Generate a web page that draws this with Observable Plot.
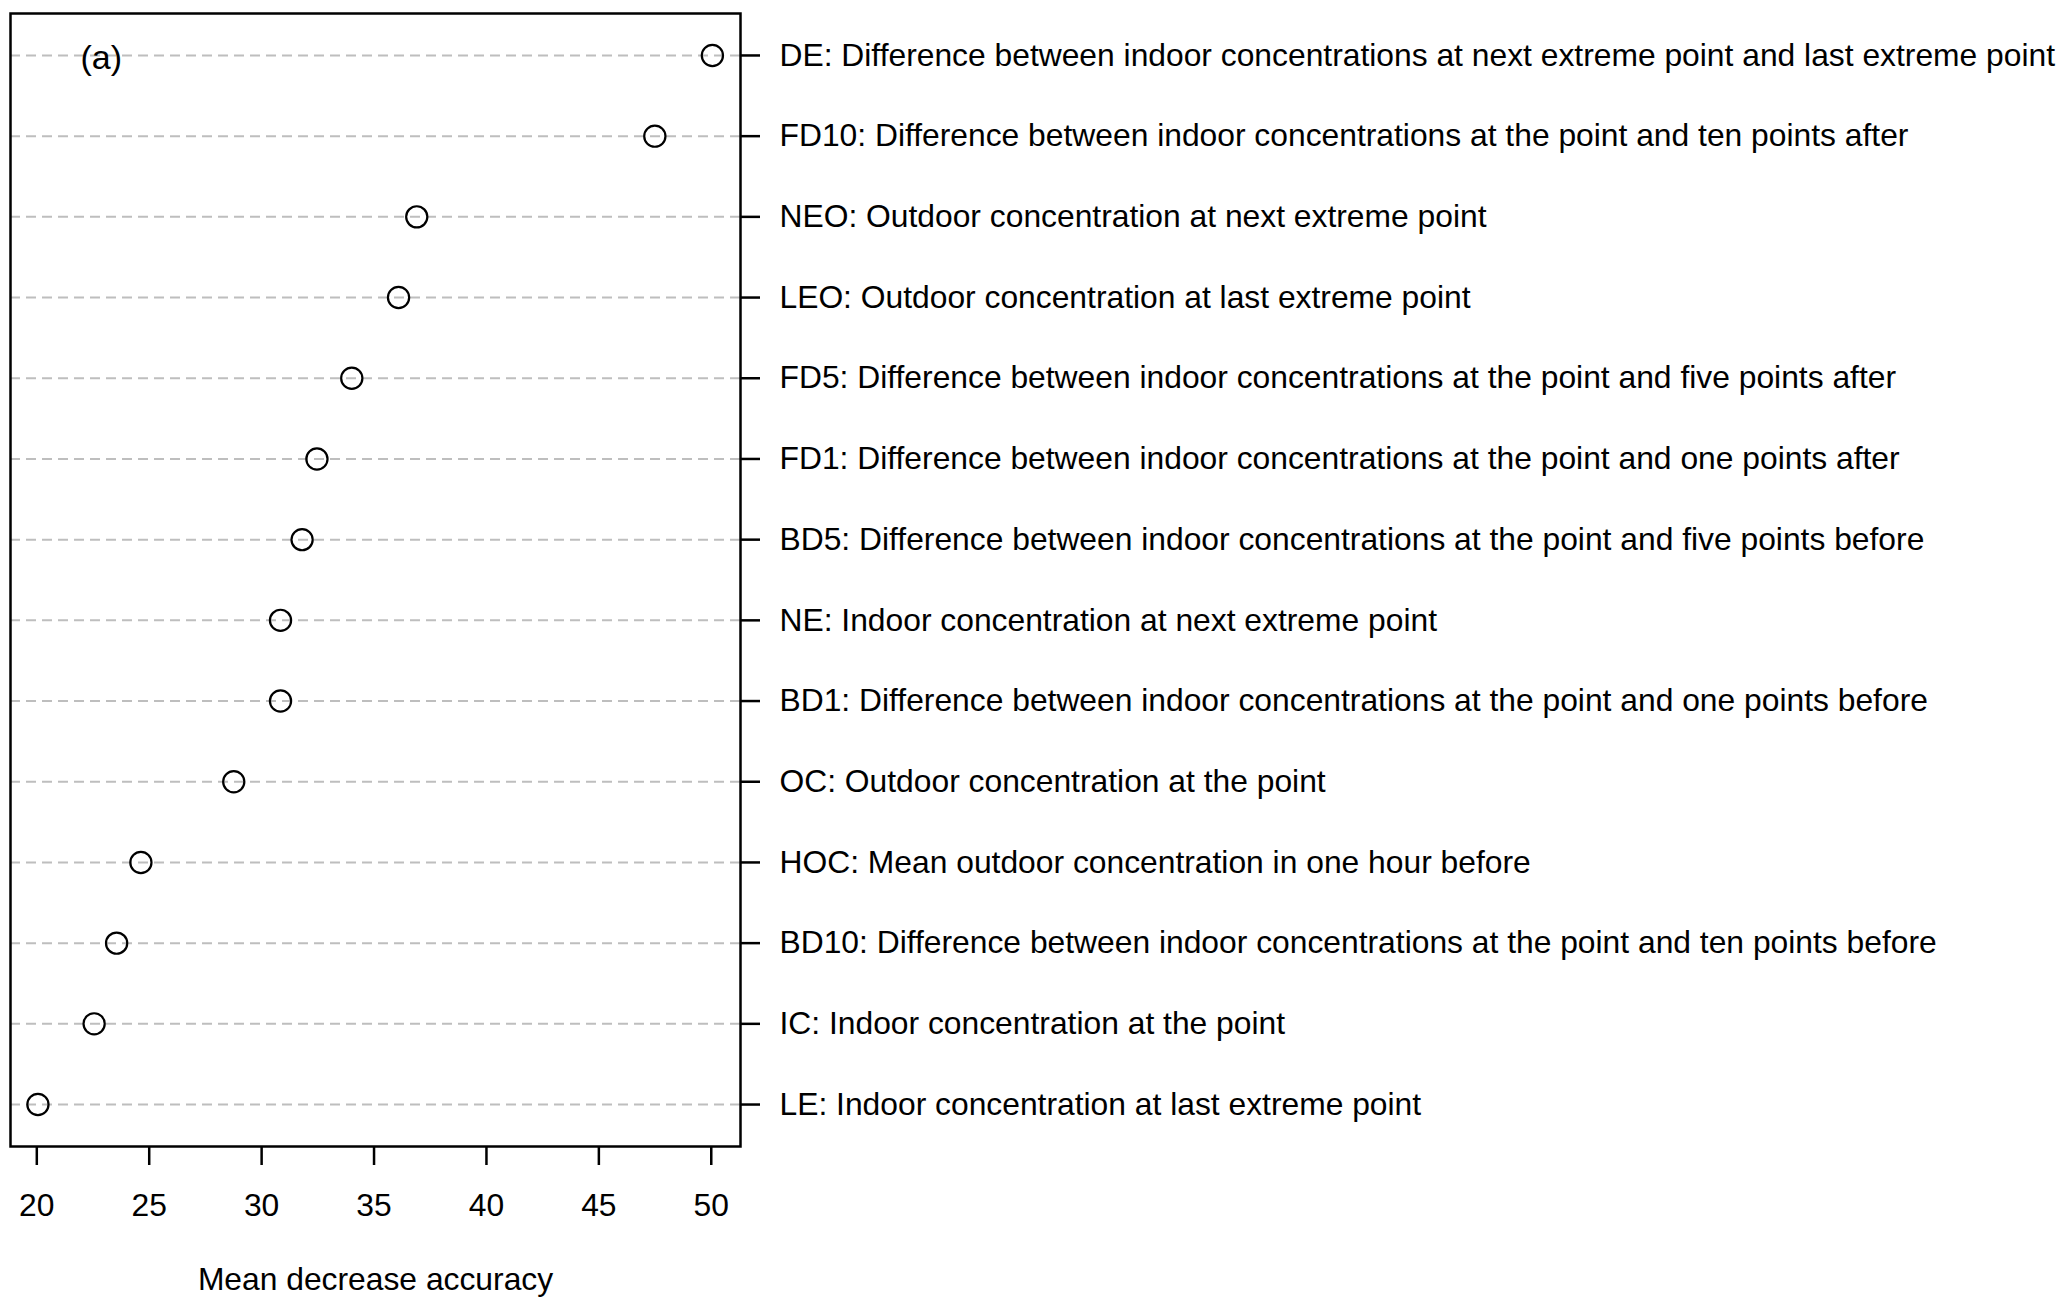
<!DOCTYPE html>
<html>
<head>
<meta charset="utf-8">
<script src="https://cdn.jsdelivr.net/npm/d3@7"></script>
<script src="https://cdn.jsdelivr.net/npm/@observablehq/plot@0.6"></script>
<style>
  html, body { margin: 0; padding: 0; background: #fff; overflow: hidden; }
  svg { display: block; }
</style>
</head>
<body>
<div id="chart"></div>
<script>
// Variables, ordered top to bottom
const codes = ["DE", "FD10", "NEO", "LEO", "FD5", "FD1", "BD5", "NE", "BD1", "OC", "HOC", "BD10", "IC", "LE"];
const descriptions = [
  "Difference between indoor concentrations at next extreme point and last extreme point",
  "Difference between indoor concentrations at the point and ten points after",
  "Outdoor concentration at next extreme point",
  "Outdoor concentration at last extreme point",
  "Difference between indoor concentrations at the point and five points after",
  "Difference between indoor concentrations at the point and one points after",
  "Difference between indoor concentrations at the point and five points before",
  "Indoor concentration at next extreme point",
  "Difference between indoor concentrations at the point and one points before",
  "Outdoor concentration at the point",
  "Mean outdoor concentration in one hour before",
  "Difference between indoor concentrations at the point and ten points before",
  "Indoor concentration at the point",
  "Indoor concentration at last extreme point"
];
const meanDecreaseAccuracy = [50.05, 47.49, 36.90, 36.09, 34.01, 32.46, 31.80, 30.84, 30.84, 28.76, 24.63, 23.55, 22.55, 20.05];
const xTicks = [20, 25, 30, 35, 40, 45, 50];
const xLabel = "Mean decrease accuracy";
const panelLabel = "(a)";

const labels = codes.map((c, i) => `${c}: ${descriptions[i]}`);
const data = labels.map((label, i) => ({label, value: meanDecreaseAccuracy[i]}));

const font = "'Liberation Sans', Arial, Helvetica, sans-serif";

const chart = Plot.plot({
  width: 2063,
  height: 1297,
  marginLeft: 10,
  marginRight: 1323,
  marginTop: 13,
  marginBottom: 151,
  style: {fontFamily: font, fontSize: "31.8px", color: "#000", background: "#fff"},
  x: {domain: [18.83, 51.3]},
  y: {type: "point", domain: labels, padding: 0.52, round: false},
  marks: [
    Plot.ruleY(data, {y: "label", stroke: "#bebebe", strokeWidth: 2, strokeDasharray: "10,6"}),
    Plot.dot(data, {x: "value", y: "label", r: 10.6, stroke: "#000", strokeWidth: 2.2, fill: "none"}),
    Plot.frame({stroke: "#000", strokeWidth: 2.5}),
    Plot.axisX({
      anchor: "bottom", ticks: xTicks, tickSize: 19, tickPadding: 28,
      strokeWidth: 2.5, fontSize: 31.8, label: null, tickFormat: d => String(d)
    }),
    Plot.axisY({
      anchor: "right", ticks: labels, tickSize: 19, tickPadding: 20,
      strokeWidth: 2.5, fontSize: 31.8, label: null
    }),
    Plot.text([xLabel], {frameAnchor: "bottom", lineAnchor: "top", dy: 121, fontSize: 31.8, fill: "#000"}),
    Plot.text([panelLabel], {frameAnchor: "top-left", textAnchor: "start", lineAnchor: "middle", dx: 70, dy: 45, fontSize: 34, fill: "#000"})
  ]
});

document.getElementById("chart").appendChild(chart);
</script>
</body>
</html>
